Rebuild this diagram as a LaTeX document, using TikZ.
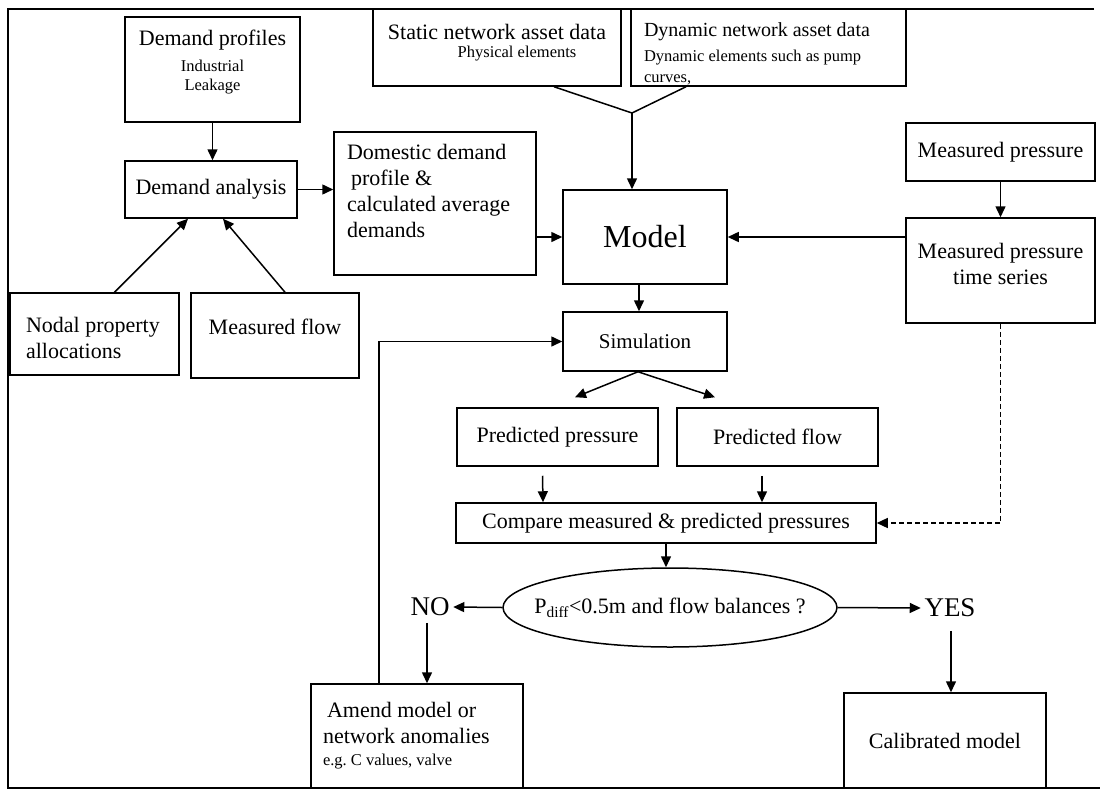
\documentclass[tikz,border=0pt]{standalone}
\usepackage{fontspec}
\setmainfont{Liberation Serif}
\usetikzlibrary{arrows.meta}
\usetikzlibrary{calc}
\usetikzlibrary{positioning}
\usetikzlibrary{shapes.geometric}
\newcommand{\smtxt}{\fontsize{16.5}{19}\selectfont}
\newcommand{\lift}[1]{\rule[-#1]{0pt}{#1}}

\begin{document}
\begin{tikzpicture}[x=1pt, y=-1pt, >={Triangle[length=11pt,width=10pt]}, line width=1.5pt,
  box/.style={draw, rectangle, align=center, inner sep=0pt, font=\fontsize{22}{26}\selectfont},
  flow/.style={->, line width=1.5pt},
  word/.style={inner sep=3pt, font=\fontsize{27}{30}\selectfont}]
\useasboundingbox (0,0) rectangle (1100,790);
% frame
\draw (1094,9) -- (8,9) -- (8,788) -- (1100,788);
% inputs
\node[box, minimum width=175pt, minimum height=105pt] (prof) at (212.5,69.5)
  {Demand profiles\\ {\smtxt Industrial}\\[-7pt] {\smtxt Leakage}\lift{18pt}};
\node[box, minimum width=172pt, minimum height=57pt] (ana) at (211,189.5) {Demand analysis};
\node[box, minimum width=202pt, minimum height=143pt, text width=176pt, align=flush left] (dom) at (435,203.5)
  {Domestic demand\\ \hspace*{4pt}profile \&\\ calculated average\\ demands\lift{25pt}};
\node[box, minimum width=169pt, minimum height=82pt, text width=137pt, align=flush left] (nodal) at (94.5,334)
  {\rule{0pt}{23pt}Nodal property\\ allocations};
\node[box, minimum width=168pt, minimum height=85pt] (mflow) at (275,335.5) {Measured flow\lift{17pt}};
\node[box, minimum width=248pt, minimum height=77pt] (stat) at (497,47.5)
  {Static network asset data\\[-8pt] \hspace*{40pt}{\smtxt Physical elements}\lift{14pt}};
\node[box, minimum width=275pt, minimum height=77pt, text width=249pt, align=flush left,
  font=\fontsize{20}{25}\selectfont] (dyn) at (768.5,47.5)
  {\rule{0pt}{27pt}Dynamic network asset data\\ {\smtxt Dynamic elements such as pump}\\[-4pt] {\smtxt curves,}};
\node[box, minimum width=189pt, minimum height=58pt] (mp) at (1000.5,152) {Measured pressure};
\node[box, minimum width=189pt, minimum height=105pt] (mpts) at (1000.5,270.5)
  {Measured pressure\\ time series\lift{14pt}};
% model and simulation
\node[box, minimum width=164pt, minimum height=94pt, font=\fontsize{32}{36}\selectfont] (model) at (645,237) {Model};
\node[box, minimum width=164pt, minimum height=59pt, font=\fontsize{21}{25}\selectfont] (sim) at (645,341.5) {Simulation};
\node[box, minimum width=201pt, minimum height=58pt] (ppress) at (557.5,437) {Predicted pressure};
\node[box, minimum width=201pt, minimum height=58pt] (pflow) at (777.5,437) {Predicted flow};
\node[box, minimum width=420pt, minimum height=40pt] (comp) at (666,523) {Compare measured \& predicted pressures};
\node[draw, ellipse, minimum width=334pt, minimum height=79pt, inner ysep=0pt, inner xsep=-20pt,
  font=\fontsize{22}{26}\selectfont] (cond) at (670,607.5)
  {P\textsubscript{diff}<0.5m and flow balances ?};
\node[word] (no) at (430,607) {NO};
\node[word] (yes) at (950,608) {YES};
\node[box, minimum width=212pt, minimum height=104pt, text width=188pt, align=flush left] (amend) at (417,736)
  {\hspace*{4pt}Amend model or\\ network anomalies\\[-4pt] {\smtxt e.g.\ C values, valve}};
\node[box, minimum width=202pt, minimum height=95pt] (calib) at (945,740.5) {Calibrated model};
% connectors
\draw[flow] (prof.south) -- (prof.south |- ana.north);
\draw[flow] (ana.east) -- (ana.east -| dom.west);
\draw[flow] ($(nodal.north)+(20,0)$) -- ($(ana.south)+(-23,0)$);
\draw[flow] ($(mflow.north)+(10,0)$) -- ($(ana.south)+(12,0)$);
\coordinate (join) at (632,113);
\draw ($(stat.south)+(57,0)$) -- (join) -- ($(dyn.south)+(-82.5,0)$);
\draw[flow] (join) -- (join |- model.north);
\draw[flow] (model.west -| dom.east) -- (model.west);
\draw[flow] (model.east -| mpts.west) -- (model.east);
\draw[flow] (mp) -- (mpts);
\draw[flow] ($(model.south)+(-6,0)$) -- ($(sim.north)+(-6,0)$);
\draw[flow] ($(sim.south)+(-7,0)$) -- ($(ppress.north)+(17.5,-10)$);
\draw[flow] ($(sim.south)+(-7,0)$) -- ($(pflow.north)+(-62.5,-10)$);
\draw[flow] ($(ppress.south)+(-15,9)$) -- ($(comp.north)+(-123,0)$);
\draw[flow] ($(pflow.south)+(-15.5,9)$) -- ($(comp.north)+(96,0)$);
\draw[flow, line width=1.2pt, dash pattern=on 5pt off 3pt] (mpts.south) |- (comp.east);
\draw[flow] (comp.south) -- (comp.south |- cond.north);
\draw[flow] (cond.west) -- (no.east);
\draw[flow] ($(no.south)+(-3,3)$) -- ($(no.south |- amend.north)+(-3,0)$);
\draw[flow] ($(amend.north)+(-38,0)$) |- (sim.west);
\draw[flow] (cond.east) -- (yes.west);
\draw[flow] ($(yes.south)+(1,10)$) -- ($(yes.south |- calib.north)+(1,0)$);
\end{tikzpicture}
\end{document}
